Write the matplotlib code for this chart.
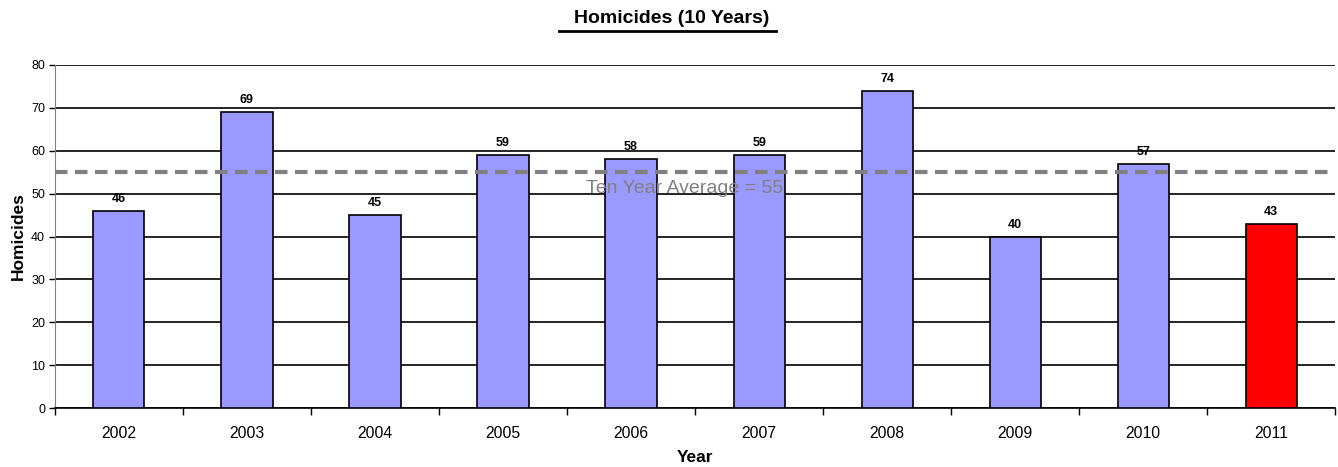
import numpy as np
import matplotlib
matplotlib.use('Agg')
import matplotlib.pyplot as plt
from matplotlib.lines import Line2D

years = ['2002', '2003', '2004', '2005', '2006', '2007', '2008', '2009', '2010', '2011']
homicides = [46, 69, 45, 59, 58, 59, 74, 40, 57, 43]
bar_colors = ['#9999FF'] * 9 + ['#FF0000']
average = np.mean(homicides)

plt.rcParams['font.family'] = ['Liberation Sans', 'DejaVu Sans']

fig = plt.figure(figsize=(13.38, 4.67), dpi=100)
ax = fig.add_axes([0.041, 0.126, 0.957, 0.735])

x = np.arange(len(years))
ax.bar(x, homicides, 0.4, color=bar_colors, edgecolor='black', linewidth=1.2, zorder=3)
for i, v in enumerate(homicides):
    ax.text(i, v + 1.4, str(v), ha='center', va='bottom', fontsize=9, fontweight='bold')

ax.axhline(average, color='#808080', ls=(0, (3, 1.8)), lw=3, zorder=4)
ax.text(4.42, average - 1.8, f'Ten Year Average = {average:.0f}', ha='center', va='top',
        fontsize=14, color='#808080', zorder=5)

ax.set_ylim(0, 80)
ax.set_yticks(range(0, 81, 10))
ax.yaxis.grid(True, color='black', lw=1.2)
ax.set_axisbelow(True)
ax.set_xlim(-0.5, len(years) - 0.5)
ax.set_xticks(x)
ax.set_xticklabels(years, fontsize=11.3)
ax.set_xticks(np.arange(-0.5, len(years), 1), minor=True)
ax.tick_params(axis='x', which='major', length=0, pad=13)
ax.tick_params(axis='x', which='minor', length=5, width=1)
ax.tick_params(axis='y', labelsize=9, length=4, width=1, pad=3)
for s in ['top', 'right']:
    ax.spines[s].set_visible(False)
ax.spines['left'].set_color('#808080')
ax.spines['bottom'].set_linewidth(1.2)

ax.set_ylabel('Homicides', fontsize=12.5, fontweight='bold', labelpad=4)
ax.set_xlabel('Year', fontsize=12.5, fontweight='bold', labelpad=6)

title = fig.text(0.502, 0.96, 'Homicides (10 Years)', ha='center', va='center',
                 fontsize=14, fontweight='bold')
fig.canvas.draw()
bb = title.get_window_extent().transformed(fig.transFigure.inverted())
fig.add_artist(Line2D([bb.x0 - 0.011, bb.x1 + 0.005], [bb.y0 - 0.008, bb.y0 - 0.008],
                      color='black', lw=2, transform=fig.transFigure))

fig.savefig('out.png', dpi=100)
